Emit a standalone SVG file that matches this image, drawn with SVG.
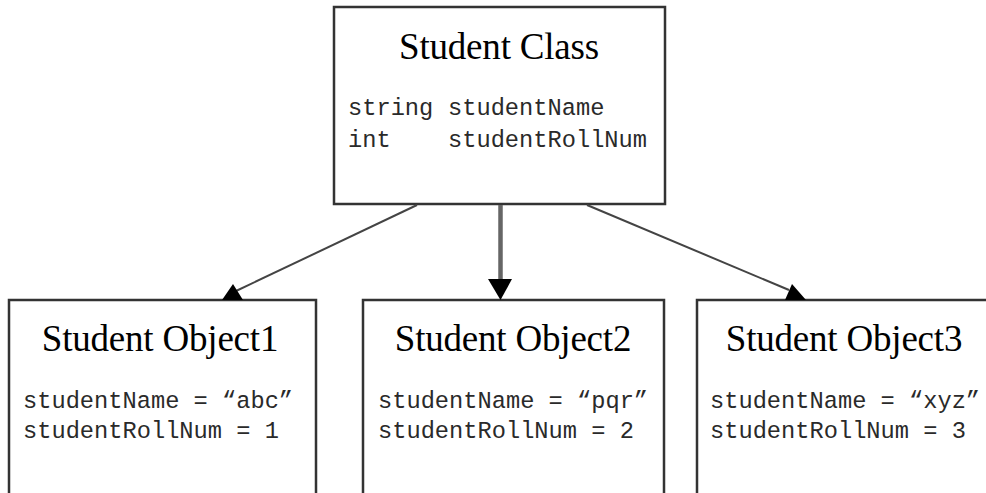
<svg xmlns="http://www.w3.org/2000/svg" width="986" height="493" viewBox="0 0 986 493">
  <style>
    .box { fill: #ffffff; stroke: #333333; stroke-width: 2.5; }
    .title { font-family: "Liberation Serif", "Times New Roman", serif; font-size: 37px; letter-spacing: -0.2px; fill: #000000; text-anchor: middle; }
    .code { font-family: "Liberation Mono", "Courier New", monospace; font-size: 23.7px; fill: #2a2a2a; }
    .link { stroke: #444444; stroke-width: 2; fill: none; }
    .trunk { stroke: #666666; stroke-width: 4.5; fill: none; }
    .head { fill: #000000; stroke: none; }
  </style>
  <rect width="986" height="493" fill="#ffffff"/>

  <!-- class definition -->
  <g id="student-class">
    <rect class="box" x="334" y="7" width="331" height="197"/>
    <text class="title" x="499" y="59">Student Class</text>
    <text class="code" y="115"><tspan x="348">string</tspan><tspan x="448">studentName</tspan></text>
    <text class="code" y="147"><tspan x="348">int</tspan><tspan x="448">studentRollNum</tspan></text>
  </g>

  <!-- instances -->
  <g id="student-object1">
    <rect class="box" x="9" y="300" width="307" height="210"/>
    <text class="title" x="160" y="351">Student Object1</text>
    <text class="code" x="23" y="408">studentName = “abc”</text>
    <text class="code" x="23" y="438">studentRollNum = 1</text>
  </g>

  <g id="student-object2">
    <rect class="box" x="363" y="300" width="301" height="210"/>
    <text class="title" x="513" y="351">Student Object2</text>
    <text class="code" x="378" y="408">studentName = “pqr”</text>
    <text class="code" x="378" y="438">studentRollNum = 2</text>
  </g>

  <g id="student-object3">
    <rect class="box" x="697" y="300" width="310" height="210"/>
    <text class="title" x="844" y="351">Student Object3</text>
    <text class="code" x="710" y="408">studentName = “xyz”</text>
    <text class="code" x="710" y="438">studentRollNum = 3</text>
  </g>

  <!-- instantiation arrows -->
  <g id="connectors">
    <line class="link" x1="417" y1="205" x2="236" y2="291"/>
    <polygon class="head" points="222,300 233,284 243,300"/>

    <line class="trunk" x1="500.5" y1="205" x2="500.5" y2="282"/>
    <polygon class="head" points="488,279 512,279 500.5,300"/>

    <line class="link" x1="587" y1="205" x2="789" y2="290"/>
    <polygon class="head" points="785,300 792,284 806,300"/>
  </g>
</svg>
